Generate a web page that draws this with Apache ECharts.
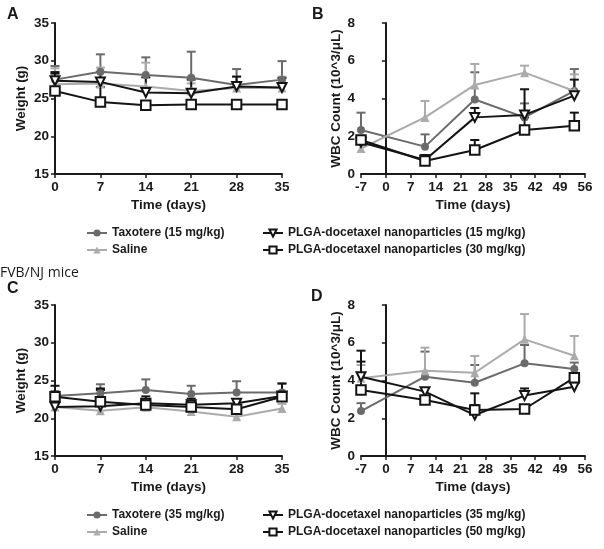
<!DOCTYPE html>
<html>
<head>
<meta charset="utf-8">
<script src="https://cdn.jsdelivr.net/npm/echarts@6/dist/echarts.min.js"></script>
<style>html,body{margin:0;padding:0;background:#fff;}#c{width:604px;height:549px;}</style>
</head>
<body>
<div id="c"></div>
<script>
// ---------- DATA ----------
var weightDays = [0, 7, 14, 21, 28, 35];
var wbcDays = [-7, 11, 25, 39, 53];

var namesTop = ['Taxotere (15 mg/kg)', 'Saline', 'PLGA-docetaxel nanoparticles (15 mg/kg)', 'PLGA-docetaxel nanoparticles (30 mg/kg)'];
var namesBottom = ['Taxotere (35 mg/kg)', 'Saline', 'PLGA-docetaxel nanoparticles (35 mg/kg)', 'PLGA-docetaxel nanoparticles (50 mg/kg)'];

// Panel A: weight (g) – means and top of error bars
var aTax = [27.5, 28.55, 28.1, 27.75, 26.8, 27.5];
var aTaxTop = [29.3, 30.85, 30.45, 31.2, 28.9, 29.95];
var aSal = [26.9, 27.0, 26.6, 26.0, 26.4, 26.4];
var aSalTop = [29.0, 29.1, 29.75, 27.0, 27.9, 27.9];
var aP1 = [27.35, 27.2, 25.8, 25.7, 26.6, 26.45];
var aP1Top = [28.5, 28.5, 27.8, 27.5, 27.9, 27.7];
var aP2 = [26.0, 24.55, 24.1, 24.2, 24.2, 24.2];
var aP2Top = [28.3, 26.5, 24.6, 24.6, 24.6, 24.6];

// Panel B: WBC count
var bTax = [2.33, 1.45, 3.95, 3.0, 4.4];
var bTaxTop = [3.25, 2.1, 5.39, 3.74, 5.56];
var bSal = [1.35, 3.0, 4.72, 5.37, 4.4];
var bSalTop = [1.6, 3.87, 5.83, 5.74, 5.28];
var bP1 = [1.68, 0.74, 3.0, 3.13, 4.15];
var bP1Top = [1.9, 1.0, 3.5, 4.49, 5.0];
var bP2 = [1.8, 0.69, 1.27, 2.33, 2.56];
var bP2Top = [2.0, 1.0, 1.8, 3.0, 3.25];

// Panel C: weight (g)
var cTax = [22.95, 23.3, 23.75, 23.2, 23.4, 23.4];
var cTaxTop = [23.6, 24.5, 25.15, 24.3, 24.9, 24.6];
var cSal = [21.5, 21.0, 21.45, 20.9, 20.2, 21.3];
var cSalTop = [22.0, 21.6, 22.0, 21.4, 20.8, 21.9];
var cP1 = [21.5, 21.6, 22.0, 21.8, 22.0, 22.95];
var cP1Top = [24.3, 23.95, 22.9, 22.6, 22.4, 24.6];
var cP2 = [22.85, 22.2, 21.75, 21.5, 21.2, 22.85];
var cP2Top = [23.3, 23.75, 22.3, 22.0, 21.8, 23.4];

// Panel D: WBC count
var dTax = [2.38, 4.2, 3.88, 4.91, 4.61];
var dTaxTop = [2.8, 5.53, 4.82, 5.88, 4.95];
var dSal = [4.12, 4.52, 4.41, 6.18, 5.31];
var dSalTop = [4.82, 5.74, 5.3, 7.52, 6.36];
var dP1 = [4.2, 3.41, 2.17, 3.2, 3.67];
var dP1Top = [5.58, 3.6, 3.32, 3.58, 3.9];
var dP2 = [3.5, 2.97, 2.44, 2.49, 4.15];
var dP2Top = [5.0, 3.6, 2.7, 2.7, 4.4];

// ---------- STYLE ----------
var FONT = 'Liberation Sans, Arial, sans-serif';
var TXT = '#1a1a1a';
var C_TAX = '#6b6b6b', C_SAL = '#ababab', C_P = '#141414';
var invTri = 'path://M0,0 L10,0 L5,9 Z';

var chart = echarts.init(document.getElementById('c'), null, {renderer: 'canvas'});

var grids = [
  {left: 55, top: 23, width: 227, height: 151},
  {left: 361, top: 23, width: 224, height: 151},
  {left: 55, top: 305, width: 227, height: 151},
  {left: 361, top: 305, width: 224, height: 151}
];

function axisCommon() {
  return {
    axisLine: {lineStyle: {color: TXT, width: 2}},
    axisTick: {length: 4, lineStyle: {color: TXT, width: 1.5}},
    axisLabel: {color: TXT, fontFamily: FONT, fontWeight: 'bold', fontSize: 13.5, margin: 6},
    splitLine: {show: false},
    nameTextStyle: {color: TXT, fontFamily: FONT, fontWeight: 'bold', fontSize: 13.5}
  };
}
function xAx(gi, isWbc) {
  var a = axisCommon();
  a.type = 'value'; a.gridIndex = gi;
  a.min = isWbc ? -7 : 0; a.max = isWbc ? 56 : 35; a.interval = 7;
  a.name = 'Time (days)'; a.nameLocation = 'middle'; a.nameGap = 24;
  return a;
}
function yAx(gi, isWbc) {
  var a = axisCommon();
  a.type = 'value'; a.gridIndex = gi;
  if (isWbc) { a.min = 0; a.max = 8; a.interval = 2; a.name = 'WBC Count (10^3/\u03bcL)'; a.nameGap = 16; }
  else { a.min = 15; a.max = 35; a.interval = 5; a.name = 'Weight (g)'; a.nameGap = 27; }
  a.nameLocation = 'middle';
  return a;
}

function zip(xs, ys) { return xs.map(function (x, i) { return [x, ys[i]]; }); }
function zip3(xs, ys, ts) { return xs.map(function (x, i) { return [x, ys[i], ts[i]]; }); }

function errRender(params, api) {
  var x = api.value(0), m = api.value(1), t = api.value(2);
  var p1 = api.coord([x, m]), p2 = api.coord([x, t]);
  var col = api.visual('color');
  return {type: 'group', children: [
    {type: 'line', shape: {x1: p1[0], y1: p1[1], x2: p2[0], y2: p2[1]}, style: {stroke: col, lineWidth: 2}},
    {type: 'line', shape: {x1: p2[0] - 4.5, y1: p2[1], x2: p2[0] + 4.5, y2: p2[1]}, style: {stroke: col, lineWidth: 2}}
  ]};
}

var series = [];
function addSet(gi, names, xs, sets) {
  var styles = [
    {color: C_TAX, symbol: 'circle', size: 8, fill: C_TAX},
    {color: C_SAL, symbol: 'triangle', size: 9, fill: C_SAL},
    {color: C_P, symbol: invTri, size: 9, fill: '#ffffff'},
    {color: C_P, symbol: 'rect', size: 9.5, fill: '#ffffff'}
  ];
  sets.forEach(function (s, k) {
    var st = styles[k];
    series.push({
      type: 'custom', xAxisIndex: gi, yAxisIndex: gi, z: 1,
      renderItem: errRender, itemStyle: {color: st.color},
      encode: {x: 0, y: [1, 2]}, data: zip3(xs, s[0], s[1]), silent: true
    });
  });
  [1, 0, 2, 3].forEach(function (k) {
    var st = styles[k];
    series.push({
      type: 'line', name: names[k], xAxisIndex: gi, yAxisIndex: gi, z: 2 + k,
      data: zip(xs, sets[k][0]),
      symbol: st.symbol, symbolSize: st.size, showAllSymbol: true,
      lineStyle: {color: st.color, width: 2},
      itemStyle: {color: st.fill, borderColor: st.color, borderWidth: st.fill === '#ffffff' ? 2 : 0},
      animation: false
    });
  });
}

addSet(0, namesTop, weightDays, [[aTax, aTaxTop], [aSal, aSalTop], [aP1, aP1Top], [aP2, aP2Top]]);
addSet(1, namesTop, wbcDays, [[bTax, bTaxTop], [bSal, bSalTop], [bP1, bP1Top], [bP2, bP2Top]]);
addSet(2, namesBottom, weightDays, [[cTax, cTaxTop], [cSal, cSalTop], [cP1, cP1Top], [cP2, cP2Top]]);
addSet(3, namesBottom, wbcDays, [[dTax, dTaxTop], [dSal, dSalTop], [dP1, dP1Top], [dP2, dP2Top]]);

function legend(left, top, data) {
  return {
    orient: 'vertical', left: left, top: top, itemGap: 5, itemWidth: 20, itemHeight: 9,
    data: data, selectedMode: false,
    textStyle: {color: TXT, fontFamily: FONT, fontWeight: 'bold', fontSize: 12}
  };
}

function label(text, x, y, size, weight, family) {
  return {type: 'text', left: x, top: y, style: {text: text, fill: TXT, font: weight + ' ' + size + 'px ' + family}};
}

var option = {
  backgroundColor: '#ffffff',
  animation: false,
  grid: grids,
  xAxis: [xAx(0, false), xAx(1, true), xAx(2, false), xAx(3, true)],
  yAxis: [yAx(0, false), yAx(1, true), yAx(2, false), yAx(3, true)],
  legend: [
    legend(81, 222, [namesTop[0], namesTop[1]]),
    legend(257, 222, [namesTop[2], namesTop[3]]),
    legend(81, 504, [namesBottom[0], namesBottom[1]]),
    legend(257, 504, [namesBottom[2], namesBottom[3]])
  ],
  graphic: [
    label('A', 7, 7, 16, 'bold', FONT),
    label('B', 312, 7, 16, 'bold', FONT),
    label('C', 7, 281, 16, 'bold', FONT),
    label('D', 311, 289, 16, 'bold', FONT),
    label('FVB/NJ mice', 0, 266, 14, 'normal', 'Open Sans, sans-serif')
  ],
  series: series
};
chart.setOption(option);
</script>
</body>
</html>
